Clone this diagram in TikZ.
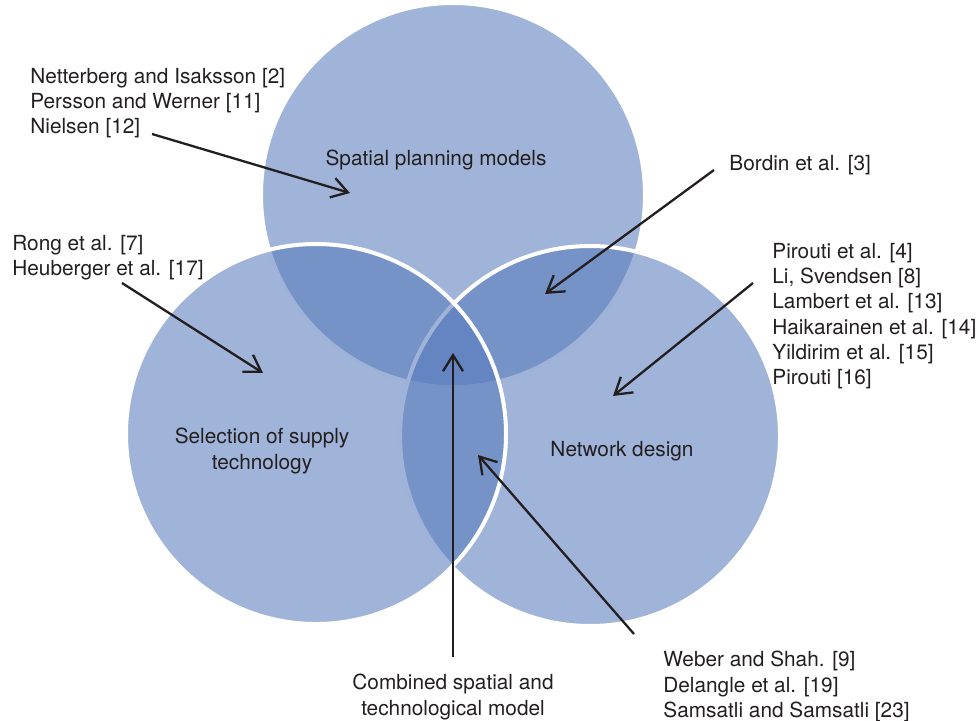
\documentclass[tikz,border=0pt]{standalone}
\usepackage{fontspec}
\setmainfont{TeX Gyre Heros}
\usepackage{tikz}
\usetikzlibrary{arrows.meta}
\definecolor{vennblue}{RGB}{85,121,187}
\definecolor{ink}{RGB}{35,31,32}

\tikzset{
  vennset/.style={fill=vennblue, fill opacity=0.56, draw=white, line width=2pt},
  lbl/.style={inner sep=0pt, text=ink, font=\fontsize{10.4}{12.6}\selectfont},
  refs/.style={lbl, anchor=north west, align=left},
  ptr/.style={draw=ink, line width=1.15pt, -{Straight Barb[length=8pt,width=10pt]}}
}

\begin{document}
\begin{tikzpicture}[x=0.5pt,y=-0.5pt]
      \useasboundingbox (0,0) rectangle (979,721);

      % the three model classes
      \path[vennset] (453,195) circle[radius=96pt];
      \path[vennset] (590,436) circle[radius=95pt];
      \path[vennset] (316,434) circle[radius=95pt];

      \node (spatial) at (436,160) [lbl] {Spatial planning models};
      \node (supply) at (262,451) [lbl, align=center] {Selection of supply\\technology};
      \node (network) at (622,451) [lbl] {Network design};

      % literature lists
      \node (r2) at (30,68) [refs] {Netterberg and Isaksson [2]\\Persson and Werner [11]\\Nielsen [12]};
      \node (r3) at (729,155) [refs] {Bordin et al. [3]};
      \node (r7) at (12,235) [refs] {Rong et al. [7]\\Heuberger et al. [17]};
      \node (r4) at (772,243) [refs] {Pirouti et al. [4]\\Li, Svendsen [8]\\Lambert et al. [13]\\Haikarainen et al. [14]\\Yildirim et al. [15]\\Pirouti [16]};
      \node (r9) at (663,651) [refs] {Weber and Shah. [9]\\Delangle et al. [19]\\Samsatli and Samsatli [23]};
      \node (comb) at (453,697) [lbl, align=center] {Combined spatial and\\technological model};

      \coordinate (t2) at (350,193);
      \coordinate (t3) at (545,294);
      \coordinate (t4) at (613,396);
      \coordinate (t7) at (263,373);
      \coordinate (tc) at (453,353);
      \coordinate (t9) at (478,455);
      \coordinate (s2) at (152,134);
      \coordinate (s3) at (714,170);
      \coordinate (s4) at (753,283);
      \coordinate (s7) at (122,283);
      \coordinate (sc) at (453,657);
      \coordinate (s9) at (634,634);

      \draw[ptr]
      (s2) to (t2);
      \draw[ptr] (s3) to (t3);
      \draw[ptr] (s4) to (t4);
      \draw[ptr] (s7) to (t7);
      \draw[ptr] (sc) to (tc);
      \draw[ptr] (s9) to (t9);
\end{tikzpicture}
\end{document}
